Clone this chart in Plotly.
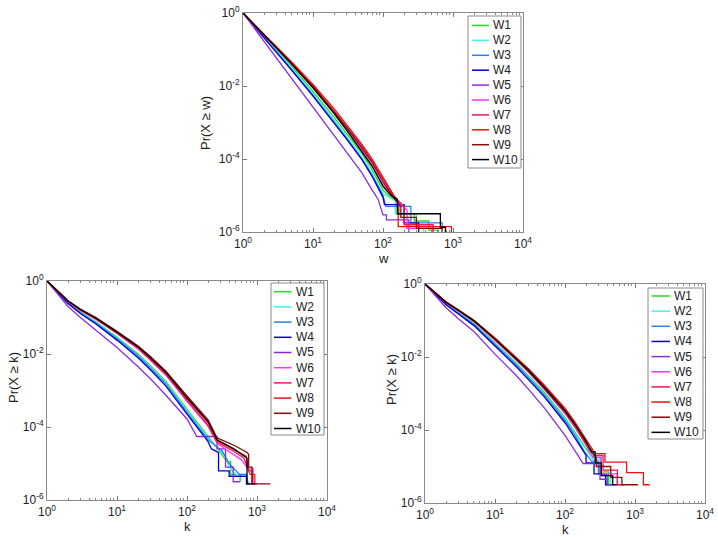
import plotly.graph_objects as go

SERIES = ["W1", "W2", "W3", "W4", "W5", "W6", "W7", "W8", "W9", "W10"]
COLORS = ["#22dd22", "#44f0f0", "#2a7fe0", "#0000cc", "#8a2be2",
          "#ff33ff", "#f0145a", "#ee1111", "#8b0a0a", "#000000"]

X_TICKS = [1, 10, 100, 1000, 10000]
X_TICK_TEXT = ["10<sup>0</sup>", "10<sup>1</sup>", "10<sup>2</sup>", "10<sup>3</sup>", "10<sup>4</sup>"]
Y_TICKS = [1e-6, 1e-4, 1e-2, 1]
Y_TICK_TEXT = ["10<sup>-6</sup>", "10<sup>-4</sup>", "10<sup>-2</sup>", "10<sup>0</sup>"]

# ---------------- top panel: weight w ----------------
W_GRID = [1, 2, 3, 5, 10, 20, 30, 50, 70, 100]
W_W1 = [1, .234, .105, .0339, 7.08e-3, 1.41e-3, 5.01e-4, 1.41e-4, 5.01e-5, 1.41e-5]
W_W1_TX = [120, 170, 170, 280, 280, 450, 450, 620, 620]
W_W1_TY = [1e-5, 6.31e-6, 3.16e-6, 3.16e-6, 2.0e-6, 2.0e-6, 1.12e-6, 1.12e-6, 1e-7]
W_W2 = [1, .224, .0955, .0295, 6.31e-3, 1.17e-3, 4.17e-4, 1.12e-4, 3.98e-5, 1.12e-5]
W_W2_TX = [150, 150, 300, 300, 380, 380]
W_W2_TY = [7.08e-6, 3.16e-6, 3.16e-6, 1.26e-6, 1.26e-6, 1e-7]
W_W3 = [1, .214, .0912, .0275, 5.62e-3, 1.07e-3, 3.80e-4, 1.0e-4, 3.55e-5, 1.0e-5]
W_W3_TX = [110, 250, 250, 700, 700]
W_W3_TY = [5.01e-6, 5.01e-6, 1.78e-6, 1.78e-6, 1e-7]
W_W4 = [1, .209, .0871, .0263, 5.25e-3, 1.0e-3, 3.55e-4, 9.55e-5, 3.31e-5, 8.91e-6]
W_W4_TX = [105, 200, 200, 323, 323]
W_W4_TY = [5.62e-6, 5.62e-6, 1.78e-6, 1.78e-6, 1e-7]
W_W5 = [1, .166, .0589, .0158, 2.63e-3, 4.37e-4, 1.55e-4, 4.17e-5, 1.41e-5]
W_W5_TX = [85, 100, 112, 112, 234, 234]
W_W5_TY = [7.94e-6, 2.95e-6, 2.95e-6, 2.14e-6, 2.14e-6, 1e-7]
W_W6 = [1, .240, .112, .0380, 8.91e-3, 1.78e-3, 6.61e-4, 1.78e-4, 6.61e-5, 2.0e-5]
W_W6_TX = [150, 220, 220, 500, 500]
W_W6_TY = [7.94e-6, 3.98e-6, 1.26e-6, 1.26e-6, 1e-7]
W_W7 = [1, .251, .120, .0417, .0100, 2.09e-3, 7.94e-4, 2.24e-4, 8.91e-5, 2.82e-5]
W_W7_TX = [140, 200, 200, 520, 520]
W_W7_TY = [1e-5, 5.01e-6, 1.58e-6, 1.58e-6, 1e-7]
W_W8 = [1, .263, .126, .0447, .0110, 2.40e-3, 8.91e-4, 2.51e-4, 1.0e-4, 3.16e-5]
W_W8_TX = [130, 165, 165, 950, 950]
W_W8_TY = [1.26e-5, 6.31e-6, 1.41e-6, 1.41e-6, 1e-7]
W_W9 = [1, .251, .117, .0398, 9.55e-3, 1.91e-3, 7.41e-4, 2.0e-4, 7.94e-5, 2.40e-5]
W_W9_TX = [140, 180, 180, 300, 300, 700, 700]
W_W9_TY = [8.91e-6, 5.01e-6, 2.51e-6, 2.51e-6, 1.26e-6, 1.26e-6, 1e-7]
W_W10 = [1, .245, .115, .0398, 8.91e-3, 1.78e-3, 6.31e-4, 1.58e-4, 6.31e-5, 1.78e-5]
W_W10_TX = [130, 160, 160, 660, 660, 780, 780]
W_W10_TY = [1e-5, 7.94e-6, 3.16e-6, 3.16e-6, 1.35e-6, 1.35e-6, 1e-7]

# ---------------- bottom-left panel: degree k ----------------
KA_GRID = [1, 2, 3, 5, 10, 20, 30, 50, 100, 200]
KA_W1 = [1, .257, .141, .0759, .0288, .0100, 4.79e-3, 1.78e-3, 3.02e-4, 5.62e-5]
KA_W1_TX = [270, 372, 420, 420, 575, 575]
KA_W1_TY = [2.63e-5, 1.12e-5, 1.12e-5, 5.01e-6, 5.01e-6, 3.16e-6]
KA_W2 = [1, .251, .138, .0741, .0275, 9.33e-3, 4.47e-3, 1.66e-3, 2.82e-4, 5.01e-5]
KA_W2_TX = [251, 355, 400, 500, 710, 710, 740]
KA_W2_TY = [3.16e-5, 1.58e-5, 7.94e-6, 5.01e-6, 5.01e-6, 2.75e-6, 2.75e-6]
KA_W3 = [1, .245, .135, .0708, .0263, 8.91e-3, 4.17e-3, 1.51e-3, 2.51e-4, 4.47e-5]
KA_W3_TX = [250, 316, 400, 560, 710, 710, 760]
KA_W3_TY = [3.16e-5, 2.24e-5, 1.0e-5, 5.01e-6, 5.01e-6, 3.16e-6, 3.16e-6]
KA_W4 = [1, .240, .129, .0661, .0240, 7.94e-3, 3.72e-3, 1.32e-3, 2.24e-4, 3.98e-5]
KA_W4_TX = [224, 282, 282, 400, 400, 708, 708, 794]
KA_W4_TY = [2.51e-5, 2.0e-5, 6.31e-6, 6.31e-6, 4.47e-6, 4.47e-6, 2.75e-6, 2.75e-6]
KA_W5 = [1, .200, .100, .0447, .0151, 4.47e-3, 2.09e-3, 7.41e-4, 1.66e-4]
KA_W5_TX = [138, 269, 269, 355, 355, 457, 457, 575]
KA_W5_TY = [5.50e-5, 5.50e-5, 2.51e-5, 2.51e-5, 7.94e-6, 7.94e-6, 3.16e-6, 3.16e-6]
KA_W6 = [1, .275, .158, .0891, .0363, .0138, 6.76e-3, 2.63e-3, 5.01e-4, 1.05e-4]
KA_W6_TX = [269, 420, 600, 750, 880, 880, 920]
KA_W6_TY = [3.55e-5, 2.0e-5, 1.26e-5, 7.08e-6, 7.08e-6, 2.75e-6, 2.75e-6]
KA_W7 = [1, .275, .158, .0912, .0372, .0145, 7.08e-3, 2.75e-3, 5.37e-4, 1.12e-4]
KA_W7_TX = [269, 450, 650, 800, 930, 930, 960]
KA_W7_TY = [3.80e-5, 2.24e-5, 1.41e-5, 5.01e-6, 5.01e-6, 2.75e-6, 2.75e-6]
KA_W8 = [1, .282, .162, .0933, .0389, .0151, 7.59e-3, 2.95e-3, 6.03e-4, 1.32e-4]
KA_W8_TX = [269, 468, 700, 760, 850, 850, 1000]
KA_W8_TY = [4.17e-5, 2.40e-5, 1.58e-5, 6.31e-6, 6.31e-6, 2.75e-6, 2.75e-6]
KA_W9 = [1, .288, .170, .100, .0417, .0166, 8.51e-3, 3.39e-3, 7.08e-4, 1.58e-4]
KA_W9_TX = [269, 468, 724, 760, 760, 851, 851, 1549]
KA_W9_TY = [5.01e-5, 3.16e-5, 2.0e-5, 1.78e-5, 7.94e-6, 7.94e-6, 2.75e-6, 2.75e-6]
KA_W10 = [1, .282, .166, .0955, .0398, .0158, 7.94e-3, 3.16e-3, 6.31e-4, 1.41e-4]
KA_W10_TX = [269, 468, 660, 720, 720, 920]
KA_W10_TY = [4.47e-5, 2.51e-5, 1.58e-5, 1.41e-5, 2.75e-6, 2.75e-6]

# ---------------- bottom-right panel: degree k ----------------
KB_GRID = [1, 2, 3, 5, 10, 20, 30, 50, 100, 141]
KB_W1 = [1, .288, .166, .0832, .0240, 6.92e-3, 3.09e-3, 1.10e-3, 2.19e-4, 8.32e-5]
KB_W1_TX = [200, 260, 320, 320, 420, 420, 470]
KB_W1_TY = [3.16e-5, 1.78e-5, 1.78e-5, 7.08e-6, 7.08e-6, 3.16e-6, 3.16e-6]
KB_W2 = [1, .282, .162, .0794, .0229, 6.46e-3, 2.88e-3, 1.0e-3, 2.0e-4, 7.59e-5]
KB_W2_TX = [200, 250, 330, 330, 450, 450, 515]
KB_W2_TY = [2.82e-5, 1.58e-5, 1.58e-5, 5.62e-6, 5.62e-6, 3.16e-6, 3.16e-6]
KB_W3 = [1, .275, .158, .0776, .0219, 6.17e-3, 2.69e-3, 9.33e-4, 1.82e-4, 6.76e-5]
KB_W3_TX = [190, 240, 300, 300, 400, 400, 470]
KB_W3_TY = [2.51e-5, 1.41e-5, 1.41e-5, 6.31e-6, 6.31e-6, 3.16e-6, 3.16e-6]
KB_W4 = [1, .269, .151, .0724, .0200, 5.50e-3, 2.40e-3, 8.32e-4, 1.58e-4, 5.75e-5]
KB_W4_TX = [200, 200, 260, 260, 380, 380, 417]
KB_W4_TY = [2.0e-5, 1.26e-5, 1.26e-5, 6.31e-6, 6.31e-6, 3.16e-6, 3.16e-6]
KB_W5 = [1, .224, .112, .0501, .0120, 3.16e-3, 1.32e-3, 4.17e-4, 7.08e-5]
KB_W5_TX = [117, 150, 182, 316, 316, 400, 400, 490]
KB_W5_TY = [4.47e-5, 2.0e-5, 1.20e-5, 1.20e-5, 4.47e-6, 4.47e-6, 3.16e-6, 3.16e-6]
KB_W6 = [1, .309, .182, .0933, .0282, 8.32e-3, 3.80e-3, 1.32e-3, 2.82e-4, 1.12e-4]
KB_W6_TX = [200, 250, 330, 330, 560, 560, 620]
KB_W6_TY = [3.98e-5, 1.78e-5, 1.78e-5, 6.31e-6, 6.31e-6, 3.16e-6, 3.16e-6]
KB_W7 = [1, .309, .186, .0955, .0295, 8.71e-3, 3.98e-3, 1.38e-3, 3.02e-4, 1.20e-4]
KB_W7_TX = [200, 260, 350, 350, 560, 560, 700]
KB_W7_TY = [3.98e-5, 2.0e-5, 2.0e-5, 7.94e-6, 7.94e-6, 3.16e-6, 3.16e-6]
KB_W8 = [1, .324, .195, .102, .0331, .0100, 4.79e-3, 1.74e-3, 3.98e-4, 1.58e-4]
KB_W8_TX = [200, 270, 372, 372, 759, 759, 1318, 1318, 1622]
KB_W8_TY = [5.62e-5, 2.24e-5, 2.24e-5, 1.32e-5, 1.32e-5, 6.76e-6, 6.76e-6, 3.16e-6, 3.16e-6]
KB_W9 = [1, .316, .191, .100, .0316, 9.55e-3, 4.47e-3, 1.58e-3, 3.55e-4, 1.41e-4]
KB_W9_TX = [200, 280, 280, 450, 450, 650, 650, 1100]
KB_W9_TY = [4.47e-5, 1.78e-5, 1.0e-5, 1.0e-5, 5.01e-6, 5.01e-6, 3.16e-6, 3.16e-6]
KB_W10 = [1, .316, .191, .0977, .0309, 9.12e-3, 4.27e-3, 1.48e-3, 3.31e-4, 1.35e-4]
KB_W10_TX = [200, 240, 270, 270, 330, 330, 480, 480, 550]
KB_W10_TY = [5.01e-5, 2.51e-5, 2.51e-5, 1.26e-5, 1.26e-5, 5.62e-6, 5.62e-6, 3.16e-6, 3.16e-6]

G = globals()
PANELS = [
    # prefix, grid, axis suffix, x title, y title
    ("W", W_GRID, "", "w", "Pr(X \u2265 w)"),
    ("KA", KA_GRID, "2", "k", "Pr(X \u2265 k)"),
    ("KB", KB_GRID, "3", "k", "Pr(X \u2265 k)"),
]

W, H = 718, 537
FONT = "Liberation Sans, Arial, sans-serif"
TXT = "#222222"
FRAME = "#8a8a8a"

def fx(px):
    return px / W

def fy(py):
    return 1 - py / H

# layout geometry in screen pixels (plot boxes, legend boxes, title positions)
BOXES = {"": (243, 523, 13, 232), "2": (47, 327, 281, 500), "3": (425, 705, 284, 503)}
LEGENDS = {"": (468, 521, 16, 168, 25.5, 14.9, 472, 489, 491),
           "2": (271, 324, 283, 435, 291.7, 15.2, 274, 291.5, 294),
           "3": (648, 703, 288, 439, 296, 15.15, 651.5, 670, 672)}
XTITLE = {"": (383, 258), "2": (187, 526), "3": (565, 529)}
YTITLE = {"": (205, 123), "2": (13, 378), "3": (391, 380)}

fig = go.Figure()
for prefix, grid, key, _, _ in PANELS:
    for name, col in zip(SERIES, COLORS):
        ys = G[f"{prefix}_{name}"]
        xs = grid[:len(ys)] + G[f"{prefix}_{name}_TX"]
        ys = ys + G[f"{prefix}_{name}_TY"]
        fig.add_trace(go.Scatter(x=xs, y=ys, mode="lines", name=name,
                                 line=dict(color=col, width=1.3),
                                 xaxis="x" + key, yaxis="y" + key, showlegend=False))

minor_x = [m * 10 ** e for e in range(4) for m in range(2, 10)]

layout = dict(width=W, height=H, margin=dict(l=0, r=0, t=0, b=0, autoexpand=False),
              paper_bgcolor="white", plot_bgcolor="white", showlegend=False,
              font=dict(family=FONT, size=12, color=TXT))
shapes, annotations = [], []
for prefix, grid, key, xt, yt in PANELS:
    x0, x1, y0, y1 = BOXES[key]
    layout["xaxis" + key] = dict(
        type="log", range=[0, 4], domain=[fx(x0), fx(x1)], anchor="y" + key,
        tickvals=X_TICKS, ticktext=X_TICK_TEXT, ticks="inside", ticklen=4,
        tickcolor="#777", showline=True, linecolor=FRAME, linewidth=1, mirror="ticks",
        showgrid=False, zeroline=False, tickfont=dict(size=12, family=FONT, color=TXT),
        ticklabelstandoff=1, ticklabeloverflow="allow",
        minor=dict(tickvals=minor_x, ticks="inside", ticklen=2, tickcolor="#888", showgrid=False))
    layout["yaxis" + key] = dict(
        type="log", range=[-6, 0], domain=[fy(y1), fy(y0)], anchor="x" + key,
        tickvals=Y_TICKS, ticktext=Y_TICK_TEXT, ticks="inside", ticklen=4,
        tickcolor="#777", showline=True, linecolor=FRAME, linewidth=1, mirror="ticks",
        showgrid=False, zeroline=False, tickfont=dict(size=12, family=FONT, color=TXT),
        ticklabeloverflow="allow")
    tx, ty = XTITLE[key]
    annotations.append(dict(x=fx(tx), y=fy(ty), xref="paper", yref="paper", text=xt,
                            showarrow=False, xanchor="center", yanchor="middle",
                            font=dict(size=13, family=FONT, color=TXT)))
    tx, ty = YTITLE[key]
    annotations.append(dict(x=fx(tx), y=fy(ty), xref="paper", yref="paper", text=yt,
                            showarrow=False, xanchor="center", yanchor="middle", textangle=-90,
                            font=dict(size=13, family=FONT, color=TXT)))
    # legend box
    lx0, lx1, ly0, ly1, first, step, sx0, sx1, tx0 = LEGENDS[key]
    shapes.append(dict(type="rect", xref="paper", yref="paper", x0=fx(lx0), x1=fx(lx1),
                       y0=fy(ly1), y1=fy(ly0), line=dict(color=FRAME, width=1),
                       fillcolor="white", layer="above"))
    for i, (name, col) in enumerate(zip(SERIES, COLORS)):
        yy = first + i * step
        shapes.append(dict(type="line", xref="paper", yref="paper", x0=fx(sx0), x1=fx(sx1),
                           y0=fy(yy), y1=fy(yy), line=dict(color=col, width=1.5), layer="above"))
        annotations.append(dict(x=fx(tx0), y=fy(yy), xref="paper", yref="paper", text=name,
                                showarrow=False, xanchor="left", yanchor="middle",
                                font=dict(size=12, family=FONT, color=TXT)))

layout["shapes"] = shapes
layout["annotations"] = annotations
fig.update_layout(**layout)
fig.write_html("out.html", config={"displayModeBar": False},
               post_script="document.body.style.margin='0';document.body.style.overflow='hidden';")
